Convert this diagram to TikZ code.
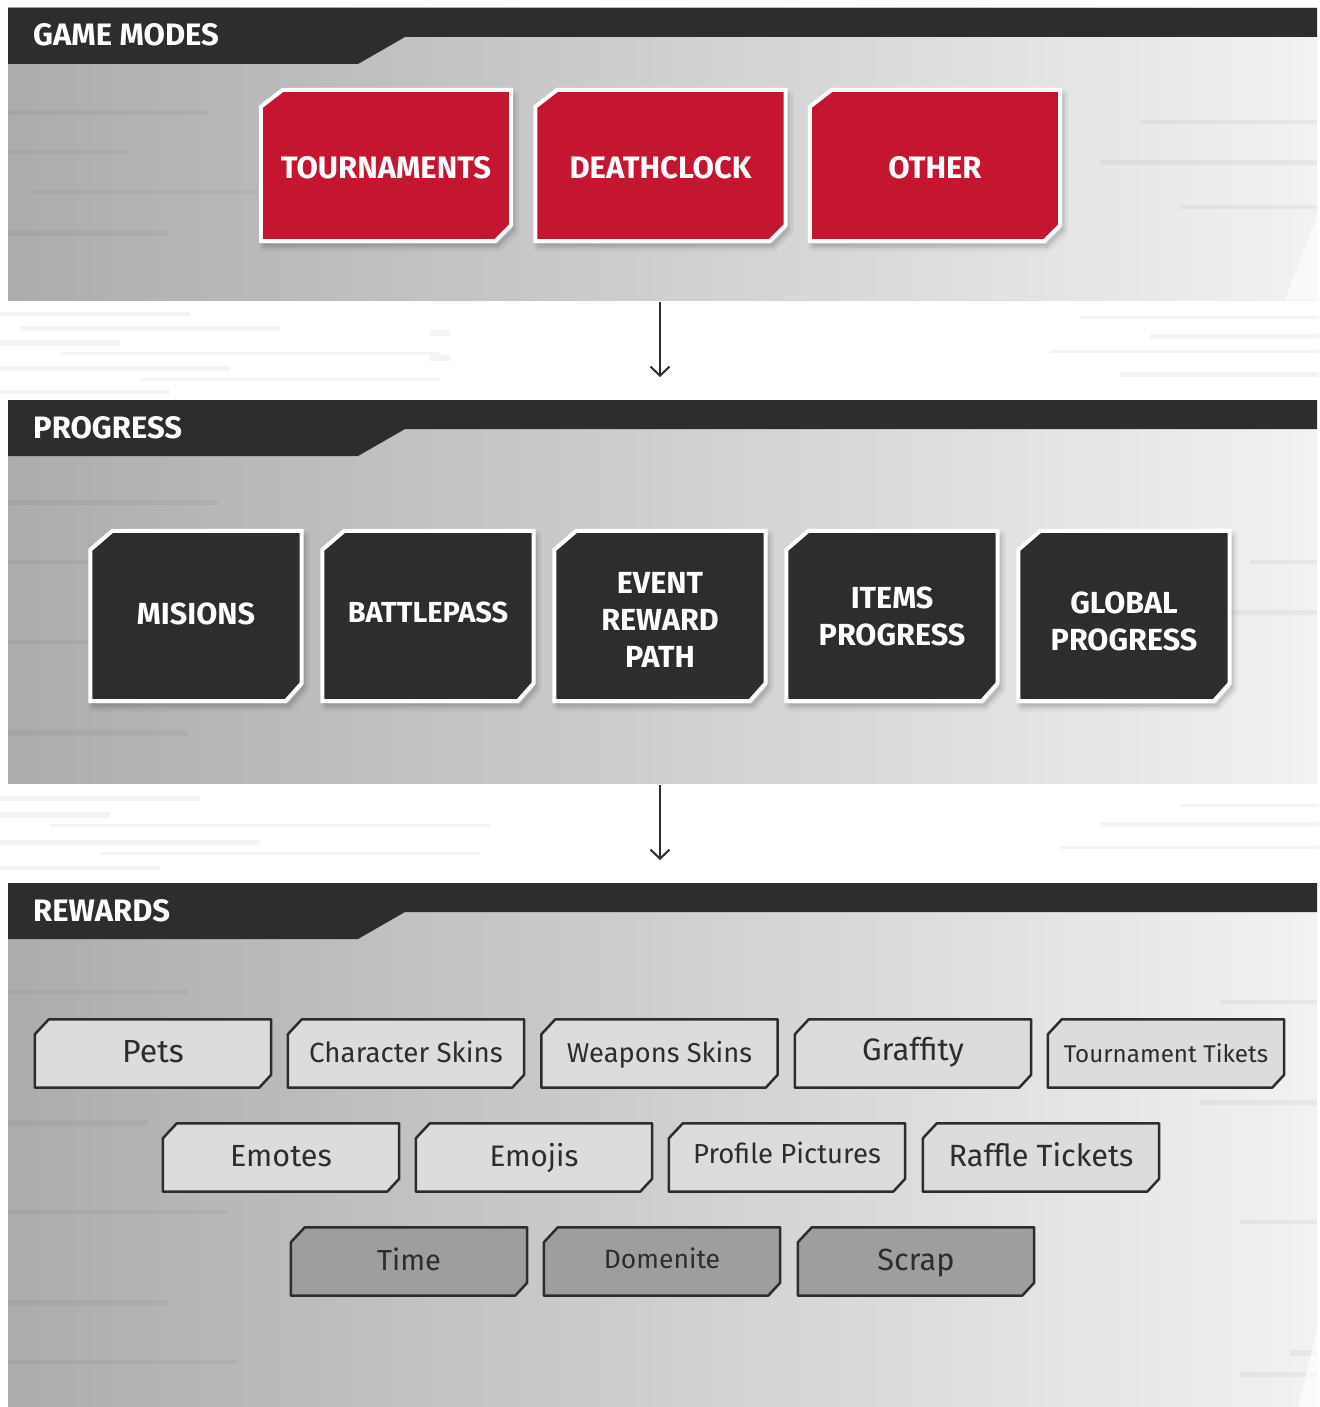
\documentclass[tikz,border=0pt]{standalone}
\usepackage{fontspec}
\setmainfont{Fira Sans}
\usetikzlibrary{calc,arrows.meta}

\definecolor{ink}{HTML}{2D2D2D}
\definecolor{redbox}{HTML}{C41630}
\definecolor{tile}{HTML}{DCDCDC}
\definecolor{tiledark}{HTML}{9E9E9E}
\definecolor{panL}{RGB}{172,172,172}
\definecolor{panM}{RGB}{226,226,226}
\definecolor{panR}{RGB}{242,242,242}

\pgfdeclarelayer{panel}
\pgfdeclarelayer{tiles}
\pgfsetlayers{panel,tiles,main}

\tikzset{
  x=1pt, y=-1pt,
  head/.style={text=white, inner sep=0pt, anchor=base west, font=\bfseries\fontsize{31}{36}\selectfont},
  mode/.style={minimum width=250pt, minimum height=151pt, inner sep=0pt, text=white, align=center,
    font=\bfseries\fontsize{31}{37}\selectfont},
  stage/.style={minimum width=211pt, minimum height=170pt, inner sep=0pt, text=white, align=center,
    font=\bfseries\fontsize{30.5}{37}\selectfont},
  reward/.style={minimum width=236pt, minimum height=68pt, inner sep=0pt, text=ink,
    text height=17pt, text depth=0pt},
  shade1/.style={draw=black, line width=10pt, opacity=0.05, line join=round},
  shade2/.style={draw=black, fill=black, line width=4pt, opacity=0.07, line join=round},
  modefill/.style={fill=redbox, draw=white, line width=4pt, line join=miter},
  stagefill/.style={fill=ink, draw=white, line width=4pt, line join=miter},
  rewardfill/.style={fill=tile, draw=ink, line width=2.5pt, line join=round},
  rewardfilldark/.style={fill=tiledark, draw=ink, line width=2.5pt, line join=round},
  flow/.style={draw=ink, line width=2pt, -{Straight Barb[length=9pt,width=19pt]}},
  streak/.style={fill=black, opacity=0.045},
}

\begin{document}
\begin{tikzpicture}
\useasboundingbox (0,0) rectangle (1319,1407);

% ---------- backdrop, panels and header bands ----------
\begin{pgfonlayer}{panel}
  \fill[white] (0,0) rectangle (1319,1407);
  % light streaks in the gaps
  \foreach \x/\y/\w/\h in {0/312/190/4, 20/326/260/5, 0/340/120/6, 60/352/380/3, 0/366/230/5,
                           140/378/300/3, 0/390/170/4, 430/330/20/6, 430/355/20/6,
                           0/796/200/5, 0/812/110/6, 50/824/440/3, 0/840/260/5, 100/852/380/3,
                           0/866/160/4, 1080/316/239/3, 1150/334/169/5, 1050/350/269/3,
                           1120/372/199/5, 1180/804/139/3, 1100/822/219/5, 1060/846/259/3}
    \fill[streak] (\x,\y) rectangle ++(\w,\h);
  % panel bodies
  \shade[left color=panL, middle color=panM, right color=panR] (8,8) rectangle (1317,300);
  \shade[left color=panL, middle color=panM, right color=panR] (8,400) rectangle (1317,783);
  \shade[left color=panL, middle color=panM, right color=panR] (8,883) rectangle (1317,1407);
  % soft streak texture on the panels
  \foreach \x/\y/\w/\h in {8/110/200/5, 8/150/120/4, 30/190/240/4, 8/230/160/6, 1140/120/177/4,
                           1100/160/217/5, 1180/205/137/4, 8/500/210/5, 8/560/120/4, 8/640/250/4,
                           8/730/180/6, 1250/560/67/4, 1230/610/87/5, 8/990/180/4, 8/1120/140/6,
                           8/1210/220/4, 8/1300/160/6, 8/1360/230/4, 1220/1000/97/4, 1200/1100/117/5,
                           1240/1220/77/4, 1290/1350/27/6, 1240/1372/77/5}
    \fill[streak] (\x,\y) rectangle ++(\w,\h);
  % white wedges at the right edges
  \fill[white, opacity=0.6] (1317,215) -- (1317,300) -- (1285,300) -- cycle;
  \fill[white, opacity=0.7] (1317,1330) -- (1317,1407) -- (1298,1407) -- cycle;
  % header bands
  \foreach \t in {8,400,883}
    \fill[ink] (8,\t) -- (1317,\t) -- (1317,\t+29) -- (405,\t+29) -- (358,\t+56) -- (8,\t+56) -- cycle;
\end{pgfonlayer}

\node[head] (hmodes) at (33,46) {GAME MODES};
\node[head] (hprogress) at (33,438) {PROGRESS};
\node[head] (hrewards) at (33,921) {REWARDS};

% ---------- game modes (tile centre y = 165.5) ----------
\node[mode] (tourn) at (386,168) {TOURNAMENTS};
\node[mode] (death) at (660.5,168) {DEATHCLOCK};
\node[mode] (other) at (935,168) {OTHER};

% ---------- progress (tile centre y = 616) ----------
\node[stage] (mis) at (196,613.5) {MISIONS};
\node[stage, font=\bfseries\fontsize{29}{37}\selectfont] (bp) at (428,612) {BATTLEPASS};
\node[stage] (evt) at (660,620) {EVENT\\REWARD\\PATH};
\node[stage] (items) at (892,616.5) {ITEMS\\PROGRESS};
\node[stage] (glob) at (1124,621.5) {GLOBAL\\PROGRESS};

% ---------- rewards (tile centres y = 1053.5 / 1157.5 / 1261.5) ----------
\node[reward, font=\fontsize{32}{36}\selectfont] (pets) at (153,1053.5) {Pets};
\node[reward, font=\fontsize{27.7}{36}\selectfont] (cskins) at (406,1053.5) {Character Skins};
\node[reward, font=\fontsize{27.3}{36}\selectfont] (wskins) at (659.5,1053.5) {Weapons Skins};
\node[reward, font=\fontsize{31}{36}\selectfont] (graff) at (913,1052) {Graffity};
\node[reward, font=\fontsize{24.2}{36}\selectfont] (ttick) at (1166,1054) {Tournament Tikets};

\node[reward, font=\fontsize{30.6}{36}\selectfont] (emotes) at (281,1157.5) {Emotes};
\node[reward, font=\fontsize{29.7}{36}\selectfont] (emojis) at (534,1157.5) {Emojis};
\node[reward, font=\fontsize{27.5}{36}\selectfont] (ppics) at (787,1155) {Profile Pictures};
\node[reward, font=\fontsize{30.7}{36}\selectfont] (raffle) at (1041,1157.5) {Raffle Tickets};

\node[reward, font=\fontsize{29}{36}\selectfont] (time) at (409,1261.5) {Time};
\node[reward, font=\fontsize{26.5}{36}\selectfont] (domen) at (662,1259.5) {Domenite};
\node[reward, font=\fontsize{30.7}{36}\selectfont] (scrap) at (916,1261.5) {Scrap};

% ---------- chamfered tiles behind the labels (\d = label offset from tile centre) ----------
\begin{pgfonlayer}{tiles}
  \foreach \n/\d in {tourn/2.5,death/2.5,other/2.5} {
    \foreach \s in {shade1,shade2}
      \path[\s, transform canvas={shift={(3pt,-5pt)}}]
        ($(\n.north west)+(0,17-\d)$) -- ($(\n.north west)+(22,-\d)$) -- ($(\n.north east)+(0,-\d)$)
        -- ($(\n.south east)+(0,-16-\d)$) -- ($(\n.south east)+(-16,-\d)$) -- ($(\n.south west)+(0,-\d)$) -- cycle;
    \path[modefill]
      ($(\n.north west)+(0,17-\d)$) -- ($(\n.north west)+(22,-\d)$) -- ($(\n.north east)+(0,-\d)$)
      -- ($(\n.south east)+(0,-16-\d)$) -- ($(\n.south east)+(-16,-\d)$) -- ($(\n.south west)+(0,-\d)$) -- cycle;
  }
  \foreach \n/\d in {mis/-2.5,bp/-4,evt/4,items/0.5,glob/5.5} {
    \foreach \s in {shade1,shade2}
      \path[\s, transform canvas={shift={(3pt,-5pt)}}]
        ($(\n.north west)+(0,19-\d)$) -- ($(\n.north west)+(22,-\d)$) -- ($(\n.north east)+(0,-\d)$)
        -- ($(\n.south east)+(0,-18-\d)$) -- ($(\n.south east)+(-16,-\d)$) -- ($(\n.south west)+(0,-\d)$) -- cycle;
    \path[stagefill]
      ($(\n.north west)+(0,19-\d)$) -- ($(\n.north west)+(22,-\d)$) -- ($(\n.north east)+(0,-\d)$)
      -- ($(\n.south east)+(0,-18-\d)$) -- ($(\n.south east)+(-16,-\d)$) -- ($(\n.south west)+(0,-\d)$) -- cycle;
  }
  \foreach \n/\d/\s in {pets/0/rewardfill, cskins/0/rewardfill, wskins/0/rewardfill, graff/-1.5/rewardfill,
                        ttick/0.5/rewardfill, emotes/0/rewardfill, emojis/0/rewardfill,
                        ppics/-2.5/rewardfill, raffle/0/rewardfill,
                        time/0/rewardfilldark, domen/-2/rewardfilldark, scrap/0/rewardfilldark}
    \path[\s]
      ($(\n.north west)+(0,15-\d)$) -- ($(\n.north west)+(14,-\d)$) -- ($(\n.north east)+(0,-\d)$)
      -- ($(\n.south east)+(0,-13-\d)$) -- ($(\n.south east)+(-12,-\d)$) -- ($(\n.south west)+(0,-\d)$) -- cycle;
\end{pgfonlayer}

% ---------- flow between the sections ----------
\coordinate (m2p-a) at (660,302);
\coordinate (m2p-b) at (660,377);
\coordinate (p2r-a) at (660,785);
\coordinate (p2r-b) at (660,860);
\draw[flow] (m2p-a) -- (m2p-b);
\draw[flow] (p2r-a) -- (p2r-b);
\end{tikzpicture}
\end{document}
